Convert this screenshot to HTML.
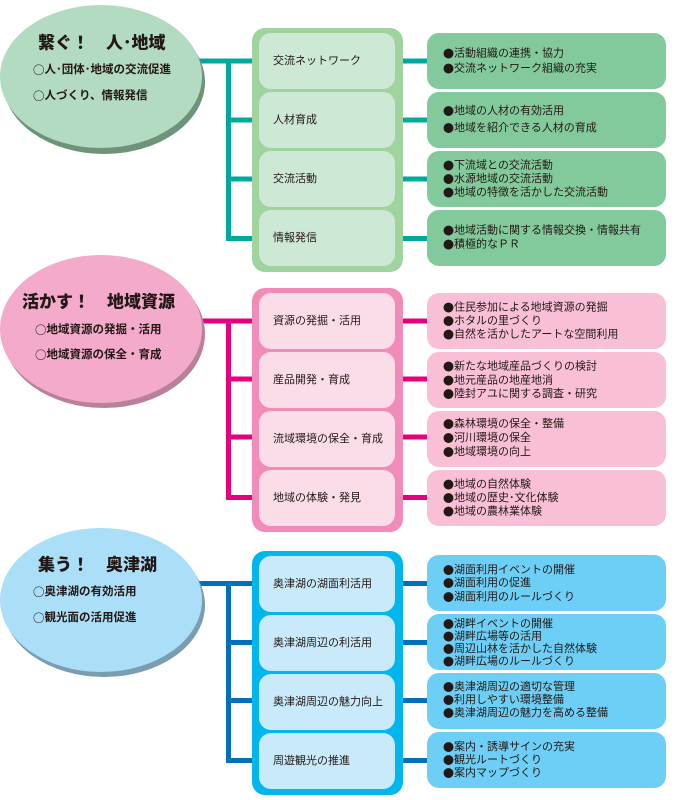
<!DOCTYPE html>
<html><head><meta charset="utf-8">
<style>
html,body{margin:0;padding:0;background:#fff;}
svg{display:block;}
text{font-family:"Liberation Sans","Noto Sans CJK JP",sans-serif;fill:#231815;}
.b{font-family:"Noto Sans CJK JP",sans-serif;}
.t{font-size:17px;font-weight:900;}
.s{font-size:11.5px;font-weight:bold;}
.m{font-size:11px;}
.r{font-size:11px;}
</style></head>
<body>
<svg width="677" height="800" viewBox="0 0 677 800" xmlns="http://www.w3.org/2000/svg">
<!-- ================= GREEN ================= -->
<rect x="195" y="58.5" width="60" height="5" fill="#00a99d"/>
<rect x="226" y="58.5" width="5" height="182.5" fill="#00a99d"/>
<rect x="226" y="117.5" width="29" height="5" fill="#00a99d"/>
<rect x="226" y="176.5" width="29" height="5" fill="#00a99d"/>
<rect x="226" y="236" width="29" height="5" fill="#00a99d"/>
<rect x="400" y="58.5" width="30" height="5" fill="#00a99d"/>
<rect x="400" y="117.5" width="30" height="5" fill="#00a99d"/>
<rect x="400" y="176.5" width="30" height="5" fill="#00a99d"/>
<rect x="400" y="236" width="30" height="5" fill="#00a99d"/>
<ellipse cx="104" cy="82" rx="101" ry="72" fill="#6e9378"/>
<ellipse cx="101" cy="76.5" rx="101" ry="71.5" fill="#b2dbc2"/>
<text class="t" x="38" y="43" dominant-baseline="central">繋ぐ！　人･地域</text>
<text class="s" x="33" y="70" dominant-baseline="central"><tspan class="b">○</tspan>人･団体･地域の交流促進</text>
<text class="s" x="33" y="96" dominant-baseline="central"><tspan class="b">○</tspan>人づくり、情報発信</text>
<rect x="252" y="28" width="151" height="244" rx="13" fill="#9fd49f"/>
<rect x="259" y="33" width="136" height="56" rx="12" fill="#cde8d5"/>
<rect x="259" y="92" width="136" height="56" rx="12" fill="#cde8d5"/>
<rect x="259" y="151" width="136" height="56" rx="12" fill="#cde8d5"/>
<rect x="259" y="210" width="136" height="56" rx="12" fill="#cde8d5"/>
<text class="m" x="273" y="61" dominant-baseline="central">交流ネットワーク</text>
<text class="m" x="273" y="120" dominant-baseline="central">人材育成</text>
<text class="m" x="273" y="179" dominant-baseline="central">交流活動</text>
<text class="m" x="273" y="238" dominant-baseline="central">情報発信</text>
<rect x="427" y="33" width="239" height="56" rx="12" fill="#82ca9c"/>
<rect x="427" y="92" width="239" height="56" rx="12" fill="#82ca9c"/>
<rect x="427" y="151" width="239" height="56" rx="12" fill="#82ca9c"/>
<rect x="427" y="210" width="239" height="56" rx="12" fill="#82ca9c"/>
<g class="r">
<text class="r" x="443" y="53.5" dominant-baseline="central"><tspan class="b">●</tspan>活動組織の連携・協力</text>
<text class="r" x="443" y="68.5" dominant-baseline="central"><tspan class="b">●</tspan>交流ネットワーク組織の充実</text>
<text class="r" x="443" y="111" dominant-baseline="central"><tspan class="b">●</tspan>地域の人材の有効活用</text>
<text class="r" x="443" y="128" dominant-baseline="central"><tspan class="b">●</tspan>地域を紹介できる人材の育成</text>
<text class="r" x="443" y="165.5" dominant-baseline="central"><tspan class="b">●</tspan>下流域との交流活動</text>
<text class="r" x="443" y="179" dominant-baseline="central"><tspan class="b">●</tspan>水源地域の交流活動</text>
<text class="r" x="443" y="192.5" dominant-baseline="central"><tspan class="b">●</tspan>地域の特徴を活かした交流活動</text>
<text class="r" x="443" y="230.5" dominant-baseline="central"><tspan class="b">●</tspan>地域活動に関する情報交換・情報共有</text>
<text class="r" x="443" y="244.5" dominant-baseline="central"><tspan class="b">●</tspan>積極的なＰＲ</text>
</g>

<!-- ================= PINK ================= -->
<rect x="195" y="318.5" width="60" height="5" fill="#e4007f"/>
<rect x="226" y="318.5" width="5" height="181.5" fill="#e4007f"/>
<rect x="226" y="376.5" width="29" height="5" fill="#e4007f"/>
<rect x="226" y="434.5" width="29" height="5" fill="#e4007f"/>
<rect x="226" y="495" width="29" height="5" fill="#e4007f"/>
<rect x="400" y="318.5" width="30" height="5" fill="#e4007f"/>
<rect x="400" y="376.5" width="30" height="5" fill="#e4007f"/>
<rect x="400" y="434.5" width="30" height="5" fill="#e4007f"/>
<rect x="400" y="495" width="30" height="5" fill="#e4007f"/>
<ellipse cx="104" cy="334" rx="101" ry="74" fill="#b8809a"/>
<ellipse cx="101" cy="329" rx="101" ry="74" fill="#f4abcb"/>
<text class="t" x="22" y="302" dominant-baseline="central">活かす！　地域資源</text>
<text class="s" x="35" y="330" dominant-baseline="central"><tspan class="b">○</tspan>地域資源の発掘・活用</text>
<text class="s" x="35" y="355" dominant-baseline="central"><tspan class="b">○</tspan>地域資源の保全・育成</text>
<rect x="252" y="288" width="151" height="244" rx="13" fill="#f18bb8"/>
<rect x="259" y="293" width="136" height="56" rx="12" fill="#fbdde9"/>
<rect x="259" y="352" width="136" height="56" rx="12" fill="#fbdde9"/>
<rect x="259" y="411" width="136" height="56" rx="12" fill="#fbdde9"/>
<rect x="259" y="470" width="136" height="56" rx="12" fill="#fbdde9"/>
<text class="m" x="273" y="321" dominant-baseline="central">資源の発掘・活用</text>
<text class="m" x="273" y="380" dominant-baseline="central">産品開発・育成</text>
<text class="m" x="273" y="439" dominant-baseline="central">流域環境の保全・育成</text>
<text class="m" x="273" y="498" dominant-baseline="central">地域の体験・発見</text>
<rect x="427" y="293" width="239" height="56" rx="12" fill="#f8bfd7"/>
<rect x="427" y="352" width="239" height="56" rx="12" fill="#f8bfd7"/>
<rect x="427" y="411" width="239" height="56" rx="12" fill="#f8bfd7"/>
<rect x="427" y="470" width="239" height="56" rx="12" fill="#f8bfd7"/>
<text class="r" x="443" y="307.5" dominant-baseline="central"><tspan class="b">●</tspan>住民参加による地域資源の発掘</text>
<text class="r" x="443" y="321" dominant-baseline="central"><tspan class="b">●</tspan>ホタルの里づくり</text>
<text class="r" x="443" y="334.5" dominant-baseline="central"><tspan class="b">●</tspan>自然を活かしたアートな空間利用</text>
<text class="r" x="443" y="366.5" dominant-baseline="central"><tspan class="b">●</tspan>新たな地域産品づくりの検討</text>
<text class="r" x="443" y="380.5" dominant-baseline="central"><tspan class="b">●</tspan>地元産品の地産地消</text>
<text class="r" x="443" y="394" dominant-baseline="central"><tspan class="b">●</tspan>陸封アユに関する調査・研究</text>
<text class="r" x="443" y="424" dominant-baseline="central"><tspan class="b">●</tspan>森林環境の保全・整備</text>
<text class="r" x="443" y="438" dominant-baseline="central"><tspan class="b">●</tspan>河川環境の保全</text>
<text class="r" x="443" y="452" dominant-baseline="central"><tspan class="b">●</tspan>地域環境の向上</text>
<text class="r" x="443" y="484.5" dominant-baseline="central"><tspan class="b">●</tspan>地域の自然体験</text>
<text class="r" x="443" y="498" dominant-baseline="central"><tspan class="b">●</tspan>地域の歴史･文化体験</text>
<text class="r" x="443" y="511.5" dominant-baseline="central"><tspan class="b">●</tspan>地域の農林業体験</text>

<!-- ================= BLUE ================= -->
<rect x="195" y="581" width="60" height="5" fill="#0070bb"/>
<rect x="226" y="581" width="5" height="181.5" fill="#0070bb"/>
<rect x="226" y="640" width="29" height="5" fill="#0070bb"/>
<rect x="226" y="698" width="29" height="5" fill="#0070bb"/>
<rect x="226" y="758" width="29" height="5" fill="#0070bb"/>
<rect x="400" y="581" width="30" height="5" fill="#0070bb"/>
<rect x="400" y="640" width="30" height="5" fill="#0070bb"/>
<rect x="400" y="698" width="30" height="5" fill="#0070bb"/>
<rect x="400" y="758" width="30" height="5" fill="#0070bb"/>
<ellipse cx="104" cy="605" rx="101" ry="72" fill="#7a9daf"/>
<ellipse cx="101" cy="600" rx="101" ry="72" fill="#abdff7"/>
<text class="t" x="38" y="565" dominant-baseline="central">集う！　奥津湖</text>
<text class="s" x="33" y="592" dominant-baseline="central"><tspan class="b">○</tspan>奥津湖の有効活用</text>
<text class="s" x="33" y="618" dominant-baseline="central"><tspan class="b">○</tspan>観光面の活用促進</text>
<rect x="252" y="551" width="151" height="244" rx="13" fill="#00b6ed"/>
<rect x="259" y="556" width="136" height="56" rx="12" fill="#c8eafa"/>
<rect x="259" y="615" width="136" height="56" rx="12" fill="#c8eafa"/>
<rect x="259" y="674" width="136" height="56" rx="12" fill="#c8eafa"/>
<rect x="259" y="733" width="136" height="56" rx="12" fill="#c8eafa"/>
<text class="m" x="273" y="584" dominant-baseline="central">奥津湖の湖面利活用</text>
<text class="m" x="273" y="643" dominant-baseline="central">奥津湖周辺の利活用</text>
<text class="m" x="273" y="702" dominant-baseline="central">奥津湖周辺の魅力向上</text>
<text class="m" x="273" y="761" dominant-baseline="central">周遊観光の推進</text>
<rect x="427" y="555" width="239" height="56" rx="12" fill="#6dcff6"/>
<rect x="427" y="614" width="239" height="56" rx="12" fill="#6dcff6"/>
<rect x="427" y="673" width="239" height="56" rx="12" fill="#6dcff6"/>
<rect x="427" y="732" width="239" height="56" rx="12" fill="#6dcff6"/>
<text class="r" x="443" y="570" dominant-baseline="central"><tspan class="b">●</tspan>湖面利用イベントの開催</text>
<text class="r" x="443" y="583" dominant-baseline="central"><tspan class="b">●</tspan>湖面利用の促進</text>
<text class="r" x="443" y="597" dominant-baseline="central"><tspan class="b">●</tspan>湖面利用のルールづくり</text>
<text class="r" x="443" y="624" dominant-baseline="central"><tspan class="b">●</tspan>湖畔イベントの開催</text>
<text class="r" x="443" y="636.5" dominant-baseline="central"><tspan class="b">●</tspan>湖畔広場等の活用</text>
<text class="r" x="443" y="649" dominant-baseline="central"><tspan class="b">●</tspan>周辺山林を活かした自然体験</text>
<text class="r" x="443" y="661.5" dominant-baseline="central"><tspan class="b">●</tspan>湖畔広場のルールづくり</text>
<text class="r" x="443" y="687" dominant-baseline="central"><tspan class="b">●</tspan>奥津湖周辺の適切な管理</text>
<text class="r" x="443" y="700" dominant-baseline="central"><tspan class="b">●</tspan>利用しやすい環境整備</text>
<text class="r" x="443" y="713" dominant-baseline="central"><tspan class="b">●</tspan>奥津湖周辺の魅力を高める整備</text>
<text class="r" x="443" y="747" dominant-baseline="central"><tspan class="b">●</tspan>案内・誘導サインの充実</text>
<text class="r" x="443" y="760" dominant-baseline="central"><tspan class="b">●</tspan>観光ルートづくり</text>
<text class="r" x="443" y="773" dominant-baseline="central"><tspan class="b">●</tspan>案内マップづくり</text>
</svg>
</body></html>
